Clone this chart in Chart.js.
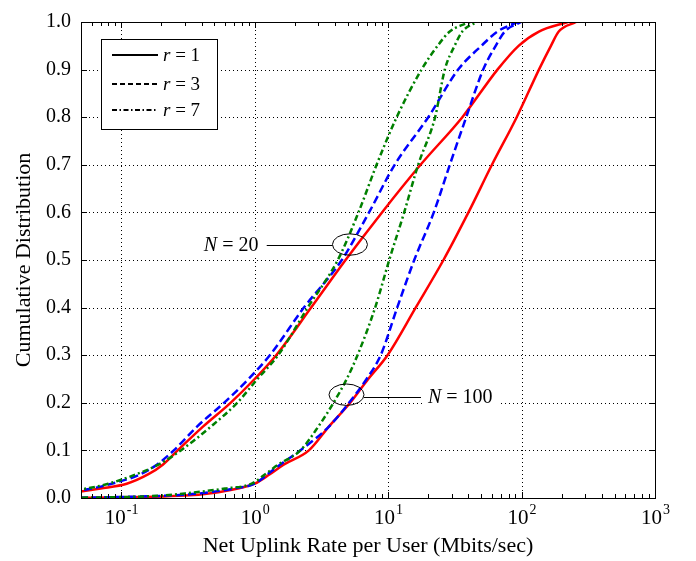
<!DOCTYPE html>
<html>
<head>
<meta charset="utf-8">
<script src="https://cdn.jsdelivr.net/npm/chart.js@4.4.0/dist/chart.umd.min.js"></script>
<style>
  html, body { margin: 0; padding: 0; background: #fff; }
  #caixa { width: 696px; height: 561px; }
</style>
</head>
<body>
<div id="caixa"><canvas id="grafico-cdf" width="696" height="561"></canvas></div>
<script>
// niveis da distribuicao acumulada (eixo y), comuns a todas as curvas
const niveisCDF = [0, 0.005, 0.01, 0.02, 0.03, 0.05, 0.07, 0.1, 0.15, 0.2, 0.25, 0.3, 0.4, 0.5, 0.6, 0.7, 0.8, 0.9, 0.95, 0.98, 1.0];

// taxa (Mbits/sec) em cada nivel -- N = 20
const taxaR1N20 = [0.015, 0.028, 0.04, 0.07, 0.11, 0.16, 0.205, 0.265, 0.41, 0.66, 1.0, 1.45, 2.65, 4.8, 9.0, 17.5, 36, 66, 95, 135, 222];
const taxaR3N20 = [0.015, 0.025, 0.035, 0.06, 0.085, 0.14, 0.185, 0.248, 0.37, 0.59, 0.9, 1.3, 2.34, 4.5, 7.2, 11.2, 20, 33.5, 50, 66, 93];
const taxaR7N20 = [0.01, 0.018, 0.028, 0.055, 0.08, 0.13, 0.19, 0.28, 0.47, 0.74, 1.05, 1.5, 2.5, 4.2, 6.0, 8.2, 11.6, 17.8, 23.5, 29, 41];

// taxa (Mbits/sec) em cada nivel -- N = 100
const taxaR1N100 = [0.04, 0.3, 0.47, 0.75, 1.0, 1.3, 1.65, 2.55, 3.6, 5.2, 7.1, 9.9, 16.1, 26, 40, 60, 92, 135, 166, 190, 256];
const taxaR3N100 = [0.04, 0.22, 0.4, 0.7, 1.0, 1.25, 1.55, 2.2, 3.6, 5.1, 6.9, 8.8, 11.7, 15.7, 22, 29, 38.5, 51.6, 64, 75, 99];
const taxaR7N100 = [0.04, 0.2, 0.31, 0.6, 0.95, 1.2, 1.5, 2.2, 3.0, 3.9, 4.9, 5.9, 8.0, 10.2, 13.2, 16.8, 22.5, 26.6, 31.5, 36, 46];

// eixos
const decadasX = [0.1, 1, 10, 100, 1000];
const expoentesX = ['-1', '0', '1', '2', '3'];
const legendaTextos = ['1', '3', '7'];

// elipses de destaque (centro em coordenadas dos dados)
const anotacoesTexto = ['20', '100'];
const anotacoesX = [5.18, 4.88];
const anotacoesY = [0.5325, 0.217];

const fonte = "'Liberation Serif', 'Times New Roman', serif";
const tracos = [[], [8, 4], [6, 3, 2, 3]];
const tracosLegenda = [[], [5, 3], [5, 2.5, 1.5, 2.5]];

const pontos = taxas => taxas.map((x, i) => ({ x, y: niveisCDF[i] }));

function serie(taxas, cor, estilo, ordem) {
  return {
    data: pontos(taxas),
    borderColor: cor,
    borderWidth: 2.5,
    borderDash: tracos[estilo],
    pointRadius: 0,
    fill: false,
    cubicInterpolationMode: 'monotone',
    order: ordem,
  };
}

const moldura = {
  id: 'moldura',
  beforeDatasetsDraw(chart) {
    const { ctx, chartArea: a, scales: { x, y } } = chart;
    ctx.save();
    ctx.strokeStyle = '#000';
    ctx.lineWidth = 1;
    ctx.setLineDash([1, 3]);
    ctx.beginPath();
    decadasX.forEach(v => {
      if (v >= x.max) return;
      const px = Math.round(x.getPixelForValue(v)) + 0.5;
      ctx.moveTo(px, a.top);
      ctx.lineTo(px, a.bottom);
    });
    for (let k = 1; k < 10; k++) {
      const py = Math.round(y.getPixelForValue(k / 10)) + 0.5;
      ctx.moveTo(a.left, py);
      ctx.lineTo(a.right, py);
    }
    ctx.stroke();
    ctx.restore();
  },
  afterDatasetsDraw(chart) {
    const { ctx, chartArea: a, scales: { x, y } } = chart;
    ctx.save();
    ctx.strokeStyle = '#000';
    ctx.fillStyle = '#000';
    ctx.lineWidth = 1;
    ctx.setLineDash([]);

    // marcas do eixo x (em cima e embaixo)
    ctx.beginPath();
    for (let d = -2; d < 3; d++) {
      for (let m = 1; m < 10; m++) {
        const v = m * Math.pow(10, d);
        if (v <= x.min || v >= x.max) continue;
        const px = Math.round(x.getPixelForValue(v)) + 0.5;
        const t = m === 1 ? 6 : 4;
        ctx.moveTo(px, a.bottom); ctx.lineTo(px, a.bottom - t);
        ctx.moveTo(px, a.top); ctx.lineTo(px, a.top + t);
      }
    }
    for (let k = 1; k < 10; k++) {
      const py = Math.round(y.getPixelForValue(k / 10)) + 0.5;
      ctx.moveTo(a.left, py); ctx.lineTo(a.left + 6, py);
      ctx.moveTo(a.right, py); ctx.lineTo(a.right - 6, py);
    }
    ctx.stroke();
    ctx.strokeRect(Math.round(a.left) + 0.5, Math.round(a.top) + 0.5, Math.round(a.right - a.left), Math.round(a.bottom - a.top));

    // rotulos 10^k
    ctx.textBaseline = 'alphabetic';
    ctx.textAlign = 'left';
    decadasX.forEach((v, i) => {
      const px = x.getPixelForValue(v);
      ctx.font = '21px ' + fonte;
      const wb = ctx.measureText('10').width;
      ctx.font = '14px ' + fonte;
      const we = ctx.measureText(expoentesX[i]).width;
      const x0 = px - (wb + we) / 2;
      ctx.font = '21px ' + fonte;
      ctx.fillText('10', x0, a.bottom + 26);
      ctx.font = '14px ' + fonte;
      ctx.fillText(expoentesX[i], x0 + wb + 1, a.bottom + 16);
    });

    // elipses e chamadas
    anotacoesTexto.forEach((txt, i) => {
      const cx = x.getPixelForValue(anotacoesX[i]);
      const cy = y.getPixelForValue(anotacoesY[i]);
      const lado = i === 0 ? -1 : 1;
      ctx.beginPath();
      ctx.ellipse(cx, cy, 17.5, 10.7, 0, 0, Math.PI * 2);
      ctx.stroke();
      const ly = Math.round(cy + (i === 0 ? 0 : 2)) + 0.5;
      const x1 = cx + lado * 17.5;
      const x2 = x1 + lado * (i === 0 ? 66 : 57);
      ctx.beginPath();
      ctx.moveTo(x1, ly); ctx.lineTo(x2, ly);
      ctx.stroke();
      ctx.font = 'italic 20px ' + fonte;
      const wn = ctx.measureText('N').width;
      ctx.font = '20px ' + fonte;
      const wr = ctx.measureText(' = ' + txt).width;
      const base = ly + 5;
      const tx = lado < 0 ? x2 - 8 - wn - wr : x2 + 7;
      ctx.fillStyle = '#fff';
      ctx.fillRect(tx - 6, base - 20, wn + wr + 14, 27);
      ctx.fillStyle = '#000';
      ctx.font = 'italic 20px ' + fonte;
      ctx.fillText('N', tx, base);
      ctx.font = '20px ' + fonte;
      ctx.fillText(' = ' + txt, tx + wn, base);
    });

    // legenda
    const lx = Math.round(a.left) + 20, ly0 = Math.round(a.top) + 17;
    ctx.fillStyle = '#fff';
    ctx.fillRect(lx, ly0, 116, 90);
    ctx.fillStyle = '#000';
    ctx.strokeRect(lx + 0.5, ly0 + 0.5, 116, 90);
    const linhasY = [16, 45, 71];
    legendaTextos.forEach((t, i) => {
      const yy = ly0 + linhasY[i];
      ctx.lineWidth = 2;
      ctx.setLineDash(tracosLegenda[i]);
      ctx.beginPath();
      ctx.moveTo(lx + 11, yy); ctx.lineTo(lx + 57, yy);
      ctx.stroke();
      ctx.setLineDash([]);
      ctx.font = 'italic 19px ' + fonte;
      ctx.fillText('r', lx + 62, yy + 6);
      const wr = ctx.measureText('r').width;
      ctx.font = '19px ' + fonte;
      ctx.fillText(' = ' + t, lx + 62 + wr, yy + 6);
    });
    ctx.restore();
  }
};

const ctx = document.getElementById('grafico-cdf').getContext('2d');
new Chart(ctx, {
  type: 'line',
  data: {
    datasets: [
      serie(taxaR1N20, '#ff0000', 0, 3),
      serie(taxaR1N100, '#ff0000', 0, 3),
      serie(taxaR3N20, '#0000ff', 1, 2),
      serie(taxaR3N100, '#0000ff', 1, 2),
      serie(taxaR7N20, '#008000', 2, 1),
      serie(taxaR7N100, '#008000', 2, 1),
    ],
  },
  options: {
    responsive: false,
    animation: false,
    devicePixelRatio: 1,
    layout: { padding: { top: 15, right: 41, left: 0, bottom: 0 } },
    plugins: { legend: { display: false }, tooltip: { enabled: false } },
    scales: {
      x: {
        type: 'logarithmic',
        min: 0.05,
        max: 1000,
        grid: { display: false, drawTicks: false },
        border: { display: false },
        ticks: { display: false },
        title: {
          display: true,
          text: 'Net Uplink Rate per User (Mbits/sec)',
          color: '#000',
          font: { family: fonte, size: 22 },
          padding: { top: 0, bottom: 2 },
        },
        afterFit: s => { s.height = 63; },
      },
      y: {
        min: 0,
        max: 1,
        grid: { display: false, drawTicks: false },
        border: { display: false },
        ticks: {
          stepSize: 0.1,
          padding: 10,
          color: '#000',
          font: { family: fonte, size: 20 },
          callback: v => v.toFixed(1),
        },
        title: {
          display: true,
          text: 'Cumulative Distribution',
          color: '#000',
          font: { family: fonte, size: 22 },
          padding: { top: 11, bottom: 0 },
        },
        afterFit: s => { s.width = 81; },
      },
    },
  },
  plugins: [moldura],
});
</script>
</body>
</html>
